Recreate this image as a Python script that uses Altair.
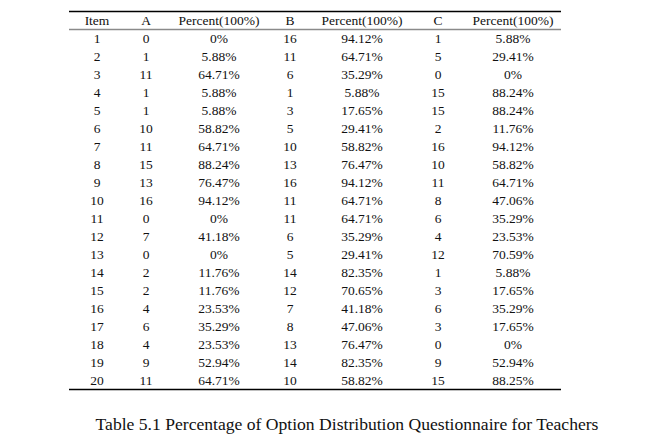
import altair as alt
import pandas as pd

items = list(range(1, 21))
a_counts = [0, 1, 11, 1, 1, 10, 11, 15, 13, 16, 0, 7, 0, 2, 2, 4, 6, 4, 9, 11]
a_pct = ["0%", "5.88%", "64.71%", "5.88%", "5.88%", "58.82%", "64.71%", "88.24%", "76.47%", "94.12%",
         "0%", "41.18%", "0%", "11.76%", "11.76%", "23.53%", "35.29%", "23.53%", "52.94%", "64.71%"]
b_counts = [16, 11, 6, 1, 3, 5, 10, 13, 16, 11, 11, 6, 5, 14, 12, 7, 8, 13, 14, 10]
b_pct = ["94.12%", "64.71%", "35.29%", "5.88%", "17.65%", "29.41%", "58.82%", "76.47%", "94.12%", "64.71%",
         "64.71%", "35.29%", "29.41%", "82.35%", "70.65%", "41.18%", "47.06%", "76.47%", "82.35%", "58.82%"]
c_counts = [1, 5, 0, 15, 15, 2, 16, 10, 11, 8, 6, 4, 12, 1, 3, 6, 3, 0, 9, 15]
c_pct = ["5.88%", "29.41%", "0%", "88.24%", "88.24%", "11.76%", "94.12%", "58.82%", "64.71%", "47.06%",
         "35.29%", "23.53%", "70.59%", "5.88%", "17.65%", "35.29%", "17.65%", "0%", "52.94%", "88.25%"]

headers = ["Item", "A", "Percent(100%)", "B", "Percent(100%)", "C", "Percent(100%)"]
caption = "Table 5.1 Percentage of Option Distribution Questionnaire for Teachers"

columns = [items, a_counts, a_pct, b_counts, b_pct, c_counts, c_pct]

records = []
for ci, head in enumerate(headers):
    records.append({"row": 0, "col": ci, "text": head})
for ci, vals in enumerate(columns):
    for i, v in enumerate(vals):
        records.append({"row": i + 1, "col": ci, "text": str(v)})
cells = pd.DataFrame(records)

rules = pd.DataFrame({"row": [-0.5, 0.5, 20.5], "kind": ["top", "mid", "bottom"]})

FONT = "Liberation Serif"

# piecewise-linear scale placing the seven column centres
xscale = alt.Scale(domain=[0, 1, 2, 3, 4, 5, 6], range=[89, 138, 211, 282, 354, 430, 505],
                   zero=False, nice=False)
yscale = alt.Scale(domain=[-0.5, 20.5], range=[3.5, 381.5], zero=False, nice=False)

text_layer = alt.Chart(cells).mark_text(
    font=FONT, fontSize=13.5, color="#111111", baseline="middle", align="center"
).encode(
    x=alt.X("col:Q", scale=xscale, axis=None),
    y=alt.Y("row:Q", scale=yscale, axis=None),
    text="text:N",
)

outer_rules = alt.Chart(rules[rules["kind"] != "mid"]).mark_rule(
    color="black", strokeWidth=1.3
).encode(
    x=alt.value(61),
    x2=alt.value(553),
    y=alt.Y("row:Q", scale=yscale, axis=None),
)

mid_rule = alt.Chart(rules[rules["kind"] == "mid"]).mark_rule(
    color="#8a8a8a", strokeWidth=1.5
).encode(
    x=alt.value(61),
    x2=alt.value(553),
    y=alt.Y("row:Q", scale=yscale, axis=None),
)

cap = alt.Chart(pd.DataFrame({"text": [caption]})).mark_text(
    font=FONT, fontSize=17.6, color="#111111", baseline="middle", align="center"
).encode(
    x=alt.value(339),
    y=alt.value(417),
    text="text:N",
)

chart = alt.layer(outer_rules, mid_rule, text_layer, cap).properties(
    width=656, height=427, padding=0, background="white",
    autosize=alt.AutoSizeParams(type="none")
).configure_view(stroke=None)

chart.save("out.html", embed_options={"renderer": "svg", "actions": False})
